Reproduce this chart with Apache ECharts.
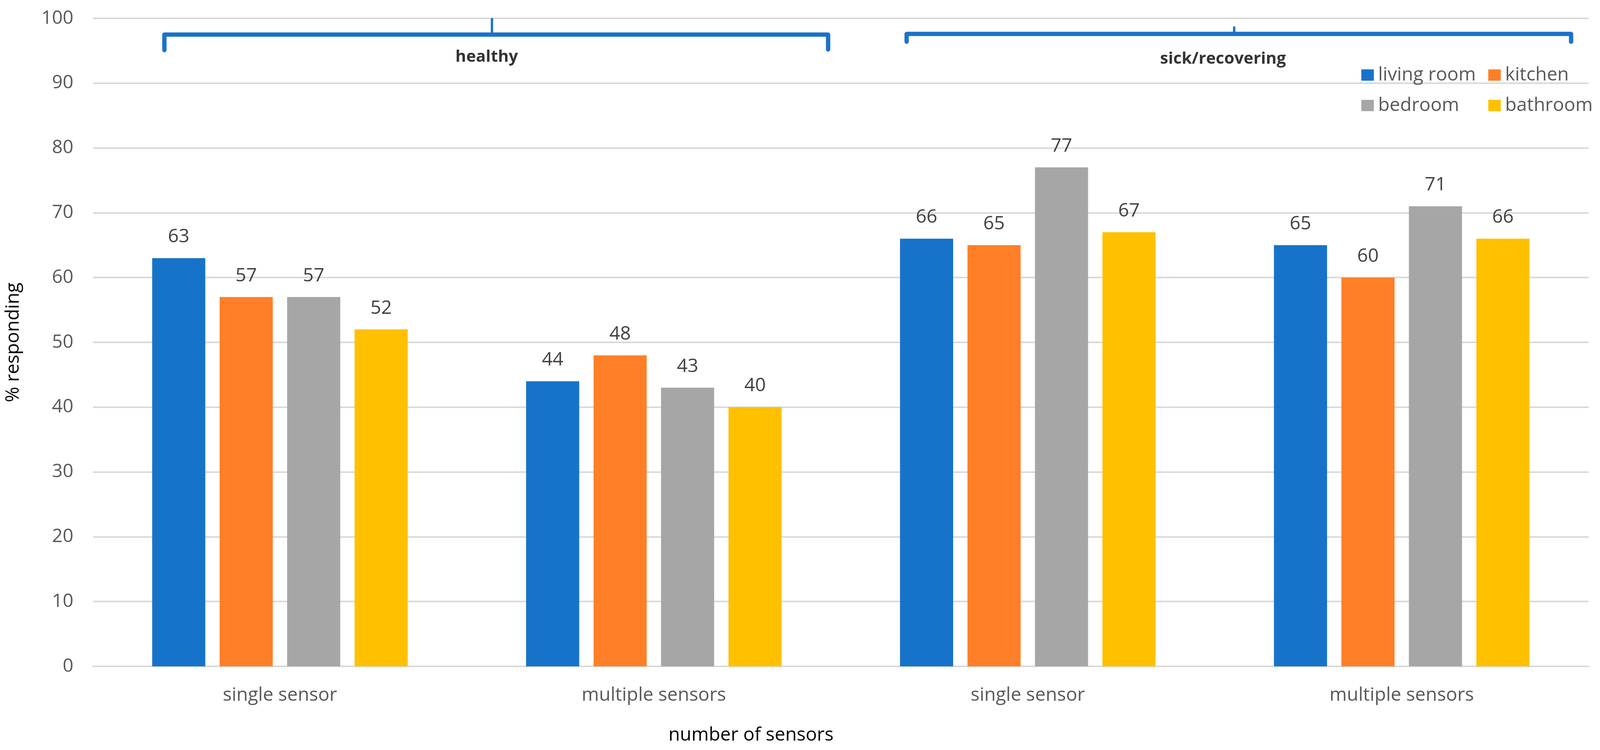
<!DOCTYPE html>
<html>
<head>
<meta charset="utf-8">
<script src="https://cdn.jsdelivr.net/npm/echarts@6/dist/echarts.min.js"></script>
<style>html,body{margin:0;padding:0;background:#fff;}#c{width:4105px;height:1919px;}</style>
</head>
<body>
<div id="c"></div>
<script>
const categories = ['single sensor', 'multiple sensors', 'single sensor', 'multiple sensors'];
const seriesNames = ['living room', 'kitchen', 'bedroom', 'bathroom'];
const livingRoom = [63, 44, 66, 65];
const kitchen = [57, 48, 65, 60];
const bedroom = [57, 43, 77, 71];
const bathroom = [52, 40, 67, 66];
const yTicks = [0, 10, 20, 30, 40, 50, 60, 70, 80, 90, 100];
// group brackets (annotation), in category-index / percent units
const groupNames = ['healthy', 'sick/recovering'];
const healthyBracket = [[-0.309, 95.1], [-0.309, 97.5], [1.466, 97.5], [1.466, 95.2]];
const healthyPointer = [[0.567, 97.5], [0.567, 99.9]];
const sickBracket = [[1.676, 96.4], [1.676, 97.6], [3.453, 97.6], [3.453, 96.4]];
const sickPointer = [[2.552, 97.6], [2.552, 98.6]];
const groupLabelPos = [[0.553, 94.0], [2.522, 93.7]];

const colors = ['#1773C9', '#FE7F27', '#A6A6A6', '#FFC000'];
const FONT = 'Open Sans';
const values = [livingRoom, kitchen, bedroom, bathroom];

const barSeries = seriesNames.map((n, i) => ({
  name: n, type: 'bar', data: values[i], barWidth: 136, barGap: '27%',
  itemStyle: { color: colors[i] },
  label: { show: true, position: 'top', distance: 30, fontSize: 48, fontFamily: FONT, color: '#404040' }
}));

const bracketLine = (data, w) => ({
  type: 'line', xAxisIndex: 1, data: data, symbol: 'none', clip: false, silent: true,
  lineStyle: { color: '#1A73CA', width: w, cap: 'round', join: 'round' }
});

const legendBase = { orient: 'vertical', top: 163, itemWidth: 32, itemHeight: 29, itemGap: 30, icon: 'rect',
  textStyle: { fontSize: 48, fontFamily: FONT, color: '#595959', padding: [0, 0, 0, 6] } };

const chart = echarts.init(document.getElementById('c'));
chart.setOption({
  animation: false,
  backgroundColor: '#fff',
  grid: { left: 238, right: 38, top: 47, bottom: 214 },
  legend: [
    Object.assign({ data: ['living room', 'bedroom'], left: 3480 }, legendBase),
    Object.assign({ data: ['kitchen', 'bathroom'], left: 3805 }, legendBase)
  ],
  xAxis: [
    { type: 'category', data: categories,
      axisLine: { show: true, lineStyle: { color: '#D9D9D9', width: 4 } },
      axisTick: { show: false },
      axisLabel: { fontSize: 48, fontFamily: FONT, color: '#595959', margin: 50 },
      name: 'number of sensors', nameLocation: 'middle', nameGap: 152,
      nameTextStyle: { fontSize: 48, fontFamily: FONT, color: '#000', padding: [0, 460, 0, 0] } },
    { type: 'value', min: -0.5, max: 3.5, show: false }
  ],
  yAxis: {
    type: 'value', min: yTicks[0], max: yTicks[yTicks.length - 1], interval: 10,
    axisLine: { show: false }, axisTick: { show: false },
    axisLabel: { fontSize: 48, fontFamily: FONT, color: '#595959', margin: 50 },
    splitLine: { lineStyle: { color: '#D9D9D9', width: 4 } },
    name: '% responding', nameLocation: 'middle', nameGap: 180,
    nameTextStyle: { fontSize: 48, fontFamily: FONT, color: '#000' }
  },
  series: barSeries.concat([
    bracketLine(healthyBracket, 11),
    bracketLine(healthyPointer, 6),
    bracketLine(sickBracket, 11),
    bracketLine(sickPointer, 6),
    { type: 'scatter', xAxisIndex: 1, symbolSize: 0, clip: false, silent: true,
      data: groupLabelPos.map((p, i) => ({ value: p, name: groupNames[i] })),
      label: { show: true, position: 'inside', formatter: '{b}', fontSize: 42, fontWeight: 'bold', fontFamily: FONT, color: '#000' } }
  ])
});
</script>
</body>
</html>
